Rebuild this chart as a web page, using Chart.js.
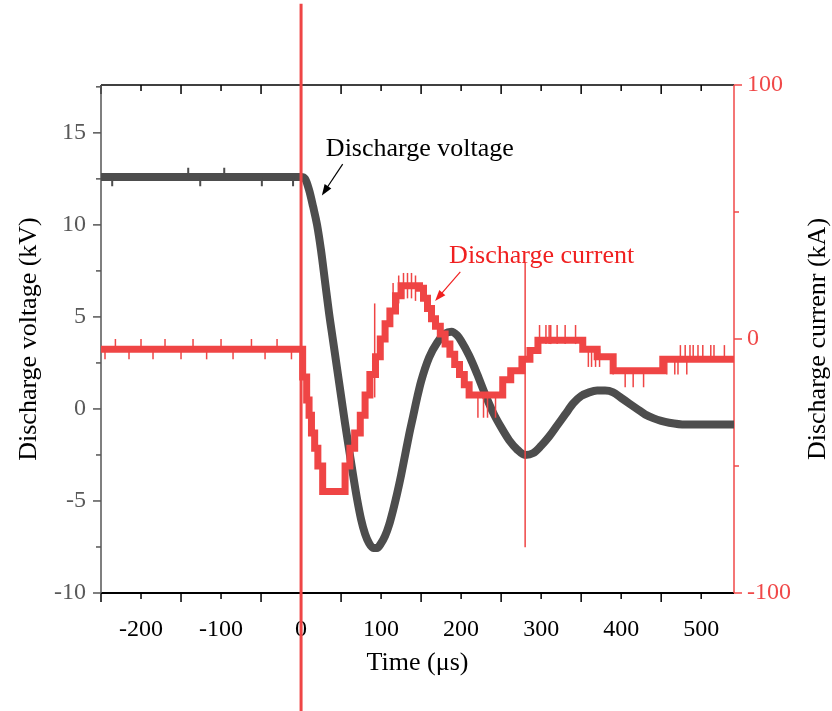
<!DOCTYPE html>
<html>
<head>
<meta charset="utf-8">
<script src="https://cdn.jsdelivr.net/npm/chart.js@4.4.1/dist/chart.umd.min.js"></script>
<style>
html, body { margin: 0; padding: 0; background: #fff; }
#wrap { width: 832px; height: 711px; }
</style>
</head>
<body>
<div id="wrap"><canvas id="discharge-chart"></canvas></div>
<script>
// discharge voltage / current waveform

const timeTicks = [-200, -100, 0, 100, 200, 300, 400, 500];
const voltageTicks = [-10, -5, 0, 5, 10, 15];
const currentTicks = [-100, 0, 100];

// voltage (kV) vs time (us)
const voltageTime = [-250, -200, -150, -100, -50, 0, 5, 10, 15, 20, 25, 30, 35, 40, 45, 50,
    55, 60, 65, 70, 75, 80, 85, 90, 95, 100, 105, 110, 115, 120, 125, 130, 135, 140, 145,
    150, 160, 170, 180, 188, 195, 200, 210, 220, 230, 240, 250, 260, 270, 280, 290, 300,
    310, 320, 330, 340, 350, 360, 370, 380, 390, 400, 410, 420, 430, 440, 450, 460, 480,
    500, 541];
const voltageValue = [12.6, 12.6, 12.6, 12.6, 12.6, 12.6, 12.5, 11.9, 11.0, 10.0, 8.6, 6.9,
    5.2, 3.7, 2.2, 0.7, -0.8, -2.2, -3.6, -4.9, -6.0, -6.8, -7.3, -7.55, -7.55, -7.3, -6.9,
    -6.3, -5.5, -4.6, -3.6, -2.5, -1.4, -0.4, 0.6, 1.5, 2.8, 3.6, 4.1, 4.2, 4.0, 3.7, 2.9,
    1.9, 0.8, -0.2, -1.0, -1.7, -2.2, -2.5, -2.4, -2.0, -1.5, -0.9, -0.3, 0.3, 0.7, 0.9,
    1.0, 1.0, 0.9, 0.6, 0.3, 0.0, -0.3, -0.5, -0.65, -0.75, -0.85, -0.85, -0.85];

// small noise ticks on the flat voltage (time, low, high)
const vNoiseTime = [-236, -141, -126, -96, -49, -10];
const vNoiseLow = [12.1, 12.6, 12.1, 12.6, 12.1, 12.1];
const vNoiseHigh = [12.6, 13.1, 12.6, 13.1, 12.6, 12.6];

// current (kA) vs time (us), step levels
const currentTime = [-250, 0, 2, 7, 10, 13, 17, 21, 27, 55, 61, 67, 74, 80, 86, 93, 99,
    105, 111, 118, 125, 148, 153, 158, 163, 168, 174, 180, 186, 192, 198, 204, 210, 252,
    262, 276, 286, 296, 352, 370, 390, 452, 541];
const currentValue = [-4, -4, -15, -24, -30, -37, -43, -50, -60, -50, -43, -37, -30, -22,
    -14, -7, 0, 6, 11, 17, 21, 20, 16, 12, 8, 5, 2, -2, -6, -10, -14, -18, -22, -16, -12.5,
    -8, -4.5, -0.5, -4, -7, -12.5, -8, -8];

// noise spikes on the current trace (time, low, high)
const spikeTime = [0, 92, 280, -245, -232, -215, -200, -185, -170, -150, -135, -118, -100,
    -85, -62, -45, -30, -12, 115, 122, 128, 133, 138, 143, 221, 228, 233, 243, 298, 306,
    310, 312, 320, 330, 343, 359, 363, 368, 373, 390, 405, 415, 428, 457, 467, 471, 482,
    474, 480, 486, 490, 496, 502, 512, 516, 529];
const spikeLow = [-150, -23, -82, -8, -4, -8, -4, -8, -4, -8, -4, -8, -4, -8, -4, -8, -4,
    -8, 10, 14, 16, 16, 16, 15, -31, -31, -31, -31, -2, -2, -2, -2, -2, -2, -2, -11, -11,
    -11, -11, -14, -19, -19, -19, -14, -14, -14, -14, -8, -8, -8, -8, -8, -8, -8, -8, -8];
const spikeHigh = [132, 14, 30, -4, 0, -4, 0, -4, 0, -4, 0, -4, 0, -4, 0, -4, 0, -4, 22,
    25, 26, 26, 26, 25, -21, -21, -21, -21, 5.5, 5.5, 5.5, 5.5, 5.5, 5.5, 5.5, -4, -4, -4,
    -4, -7, -12, -12, -12, -8, -8, -8, -8, -2.4, -2.4, -2.4, -2.4, -2.4, -2.4, -2.4, -2.4,
    -2.4];

const grey = '#4d4d4d';
const red = '#ef4545';
const axisRed = '#f04848';
const serif = 'Liberation Serif';

Chart.defaults.font.family = serif;

function tickPoints(times, lows, highs) {
    const pts = [];
    times.forEach((t, i) => {
        pts.push({x: t, y: lows[i]}, {x: t, y: highs[i]}, {x: t, y: null});
    });
    return pts;
}

const voltagePoints = voltageTime.map((t, i) => ({x: t, y: voltageValue[i]}));
const currentPoints = currentTime.map((t, i) => ({x: t, y: currentValue[i]}));
const spikePoints = tickPoints(spikeTime, spikeLow, spikeHigh);
const vNoisePoints = tickPoints(vNoiseTime, vNoiseLow, vNoiseHigh);

function seg(ctx, x1, y1, x2, y2) {
    ctx.beginPath();
    ctx.moveTo(x1, y1);
    ctx.lineTo(x2, y2);
    ctx.stroke();
}

function arrow(ctx, x1, y1, x2, y2, color) {
    const ang = Math.atan2(y2 - y1, x2 - x1);
    ctx.strokeStyle = color;
    ctx.fillStyle = color;
    ctx.lineWidth = 1.2;
    seg(ctx, x1, y1, x2 - 8 * Math.cos(ang), y2 - 8 * Math.sin(ang));
    ctx.beginPath();
    ctx.moveTo(x2, y2);
    ctx.lineTo(x2 - 11 * Math.cos(ang) + 4 * Math.sin(ang), y2 - 11 * Math.sin(ang) - 4 * Math.cos(ang));
    ctx.lineTo(x2 - 11 * Math.cos(ang) - 4 * Math.sin(ang), y2 - 11 * Math.sin(ang) + 4 * Math.cos(ang));
    ctx.closePath();
    ctx.fill();
}

const framePlugin = {
    id: 'frame',
    beforeDatasetsDraw(chart) {
        const {ctx, chartArea: a} = chart;
        const sx = chart.scales.x, sy = chart.scales.y, sy1 = chart.scales.y1;
        ctx.save();
        // time axis ticks, bottom (outward) and top (inward)
        ctx.strokeStyle = '#000';
        ctx.lineWidth = 1.5;
        for (let v = -250; v <= 541; v += 50) {
            const px = sx.getPixelForValue(v);
            const len = (v % 100 === 0) ? 6 : 9;
            seg(ctx, px, a.bottom, px, a.bottom + len);
            seg(ctx, px, a.top, px, a.top + len);
        }
        seg(ctx, a.left, a.top, a.right, a.top);
        ctx.lineWidth = 2;
        seg(ctx, a.left, a.bottom, a.right, a.bottom);
        // voltage axis
        ctx.strokeStyle = '#555';
        ctx.lineWidth = 1.5;
        seg(ctx, a.left, a.top, a.left, a.bottom);
        for (let v = -10; v <= 17.5; v += 2.5) {
            const py = sy.getPixelForValue(v);
            const len = (v % 5 === 0) ? 8 : 5;
            seg(ctx, a.left - len, py, a.left, py);
        }
        // current axis
        ctx.strokeStyle = axisRed;
        seg(ctx, a.right, a.top, a.right, a.bottom);
        for (let v = -100; v <= 100; v += 50) {
            const py = sy1.getPixelForValue(v);
            const len = (v % 100 === 0) ? 8 : 5;
            seg(ctx, a.right, py, a.right + len, py);
        }
        ctx.restore();
    },
    afterDraw(chart) {
        const {ctx, chartArea: a} = chart;
        const sx = chart.scales.x, sy = chart.scales.y, sy1 = chart.scales.y1;
        ctx.save();
        ctx.font = '26px ' + serif;
        ctx.textBaseline = 'alphabetic';
        ctx.textAlign = 'left';
        // voltage label
        ctx.fillStyle = '#000';
        ctx.fillText('Discharge voltage', sx.getPixelForValue(31), sy.getPixelForValue(13.75));
        arrow(ctx, sx.getPixelForValue(52), sy.getPixelForValue(13.3),
            sx.getPixelForValue(26), sy.getPixelForValue(11.6), '#000');
        // current label
        ctx.fillStyle = '#f02020';
        ctx.fillText('Discharge current', sx.getPixelForValue(185), sy1.getPixelForValue(30));
        arrow(ctx, sx.getPixelForValue(199), sy1.getPixelForValue(26.4),
            sx.getPixelForValue(167.5), sy1.getPixelForValue(15), '#f02020');
        // right axis title, reading bottom to top
        ctx.fillStyle = '#000';
        ctx.textAlign = 'center';
        ctx.textBaseline = 'middle';
        ctx.translate(818, (a.top + a.bottom) / 2);
        ctx.rotate(-Math.PI / 2);
        ctx.fillText('Discharge currenr (kA)', 0, 0);
        ctx.restore();
    }
};

const data = {
    datasets: [{
        label: 'Discharge voltage',
        data: voltagePoints,
        yAxisID: 'y',
        borderColor: grey,
        borderWidth: 8,
        pointRadius: 0,
        cubicInterpolationMode: 'monotone',
        order: 4
    }, {
        label: 'Voltage noise',
        data: vNoisePoints,
        yAxisID: 'y',
        borderColor: grey,
        borderWidth: 2,
        pointRadius: 0,
        spanGaps: false,
        order: 3
    }, {
        label: 'Discharge current',
        data: currentPoints,
        yAxisID: 'y1',
        borderColor: red,
        borderWidth: 7,
        stepped: true,
        pointRadius: 0,
        order: 2
    }, {
        label: 'Current noise',
        data: spikePoints,
        yAxisID: 'y1',
        borderColor: red,
        borderWidth: 1.5,
        segment: {
            borderWidth: ctx => ctx.p0DataIndex === 0 ? 3 : 1.5
        },
        pointRadius: 0,
        spanGaps: false,
        clip: false,
        order: 1
    }]
};

const config = {
    type: 'line',
    data,
    options: {
        responsive: true,
        maintainAspectRatio: false,
        animation: false,
        layout: { padding: { top: 85, left: 0, right: 0, bottom: 0 } },
        plugins: {
            legend: { display: false },
            tooltip: { enabled: false }
        },
        scales: {
            x: {
                type: 'linear',
                min: -250,
                max: 541,
                afterBuildTicks: s => { s.ticks = timeTicks.map(v => ({value: v})); },
                afterFit: s => { s.height = 118; },
                grid: { display: false, drawTicks: false },
                border: { display: false },
                ticks: { color: '#000', font: { size: 24 }, padding: 22, maxRotation: 0, autoSkip: false },
                title: { display: true, text: 'Time (\u03bcs)', color: '#000', font: { size: 26 }, padding: { bottom: 32 } }
            },
            y: {
                position: 'left',
                min: -10,
                max: 17.6,
                afterBuildTicks: s => { s.ticks = voltageTicks.map(v => ({value: v})); },
                afterFit: s => { s.width = 101; },
                grid: { display: false, drawTicks: false },
                border: { display: false },
                ticks: { color: '#595959', font: { size: 24 }, padding: 15 },
                title: { display: true, text: 'Discharge voltage (kV)', color: '#000', font: { size: 26 }, padding: { top: 14 } }
            },
            y1: {
                position: 'right',
                min: -100,
                max: 100,
                afterBuildTicks: s => { s.ticks = currentTicks.map(v => ({value: v})); },
                afterFit: s => { s.width = 98; },
                grid: { display: false, drawTicks: false },
                border: { display: false },
                ticks: { color: axisRed, font: { size: 24 }, padding: 13 }
            }
        }
    },
    plugins: [framePlugin]
};

const dischargeChart = new Chart(document.getElementById('discharge-chart'), config);
</script>
</body>
</html>
